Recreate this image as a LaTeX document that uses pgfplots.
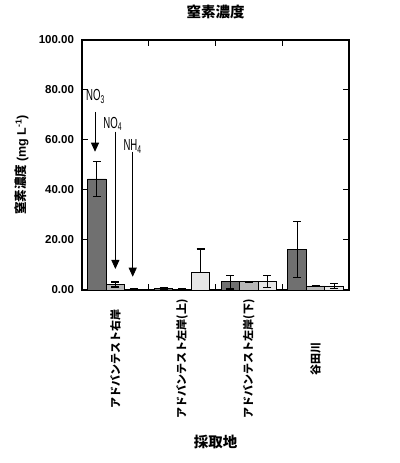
\documentclass[border=0pt]{standalone}
\usepackage{pgfplots}
\pgfplotsset{compat=1.18}
\usepackage{pgfplotstable}
\usepackage{fontspec}
\setmainfont{Liberation Sans}
\newfontfamily\cjk{Noto Sans CJK JP}
\usetikzlibrary{arrows.meta}
\definecolor{cno3}{HTML}{707070}
\definecolor{cno4}{HTML}{B8B8B8}
\definecolor{cnh4}{HTML}{E6E6E6}
\pgfplotstableread{
x y ep em
-0.277 44.4 7.0 7.0
0.723 0.7 0.3 0.3
1.723 3.3 2.4 2.9
2.723 16.3 11.0 11.2
}\noT
\pgfplotstableread{
x y ep em
0 2.2 1.0 1.0
1 0.3 0.1 0.1
2 3.3 0.2 0.2
3 1.6 0.3 0.3
}\noF
\pgfplotstableread{
x y ep em
0.277 0.4 0.2 0.2
1.277 7.1 9.3 0.0
2.277 3.3 2.4 2.4
3.277 1.6 1.1 1.1
}\nhF
\begin{document}
\begin{tikzpicture}
\path[use as bounding box] (0,0) rectangle (400bp,463bp);
\begin{axis}[
  at={(82bp,173bp)}, anchor=south west,
  scale only axis, width=267bp, height=250bp,
  xmin=-0.5, xmax=3.5, ymin=0, ymax=100,
  axis line style={line width=1.2bp},
  tick align=inside, xtick pos=both, ytick pos=both,
  major tick length=6bp, minor tick length=6bp,
  every tick/.style={line width=1bp, black},
  xtick={0,1,2,3},
  major x tick style={draw=none},
  minor xtick={0.5,1.5,2.5},
  xticklabels={アドバンテスト右岸, アドバンテスト左岸(上), アドバンテスト左岸(下), 谷田川},
  xticklabel style={rotate=90, anchor=center, font=\cjk\fontsize{11bp}{13bp}\selectfont\bfseries},
  xticklabel shift=69bp,
  ytick={0,20,40,60,80,100},
  yticklabel style={/pgf/number format/fixed, /pgf/number format/fixed zerofill, /pgf/number format/precision=2, /pgf/number format/assume math mode=true, font=\fontsize{11.5bp}{13bp}\selectfont\bfseries},
  yticklabel shift=4.5bp,
  title={\cjk\bfseries 窒素濃度},
  title style={at={(axis description cs:0.5,1.088)}, anchor=center, font=\fontsize{14.5bp}{16bp}\selectfont},
  xlabel={\cjk\bfseries 採取地},
  xlabel style={at={(axis description cs:0.5,-0.608)}, anchor=center, font=\fontsize{14.5bp}{16bp}\selectfont},
  ylabel={{\cjk\bfseries 窒素濃度} (mg L\textsuperscript{-1})},
  ylabel style={at={(axis description cs:-0.225,0.5)}, anchor=center, font=\fontsize{12.5bp}{14bp}\selectfont\bfseries},
]
\addplot[ybar, bar width=0.277, bar shift=0, fill=cno3, draw=black, line width=0.9bp,
  error bars/.cd, y dir=both, y explicit,
  error bar style={line width=1.1bp, black},
  error mark options={rotate=90, line width=1.1bp, mark size=4bp, black}]
  table[x=x, y=y, y error plus=ep, y error minus=em] {\noT};
\addplot[ybar, bar width=0.277, bar shift=0, fill=cno4, draw=black, line width=0.9bp,
  error bars/.cd, y dir=both, y explicit,
  error bar style={line width=1.1bp, black},
  error mark options={rotate=90, line width=1.1bp, mark size=4bp, black}]
  table[x=x, y=y, y error plus=ep, y error minus=em] {\noF};
\addplot[ybar, bar width=0.277, bar shift=0, fill=cnh4, draw=black, line width=0.9bp,
  error bars/.cd, y dir=both, y explicit,
  error bar style={line width=1.1bp, black},
  error mark options={rotate=90, line width=1.1bp, mark size=4bp, black}]
  table[x=x, y=y, y error plus=ep, y error minus=em] {\nhF};
\draw[-{Triangle[width=8bp,length=9bp]}, line width=0.8bp] (axis cs:-0.305,71.2) -- (axis cs:-0.305,55.3);
\draw[-{Triangle[width=8bp,length=9bp]}, line width=0.8bp] (axis cs:0,63.3) -- (axis cs:0,8.4);
\draw[-{Triangle[width=8bp,length=9bp]}, line width=0.8bp] (axis cs:0.26,55.3) -- (axis cs:0.26,5.3);
\node[anchor=base west, xscale=0.6, inner sep=0, font=\fontsize{16bp}{18bp}\selectfont] at (axis cs:-0.44,75.7) {NO\textsubscript{3}};
\node[anchor=base west, xscale=0.6, inner sep=0, font=\fontsize{16bp}{18bp}\selectfont] at (axis cs:-0.18,64.7) {NO\textsubscript{4}};
\node[anchor=base west, xscale=0.6, inner sep=0, font=\fontsize{16bp}{18bp}\selectfont] at (axis cs:0.12,55.7) {NH\textsubscript{4}};
\end{axis}
\end{tikzpicture}
\end{document}
